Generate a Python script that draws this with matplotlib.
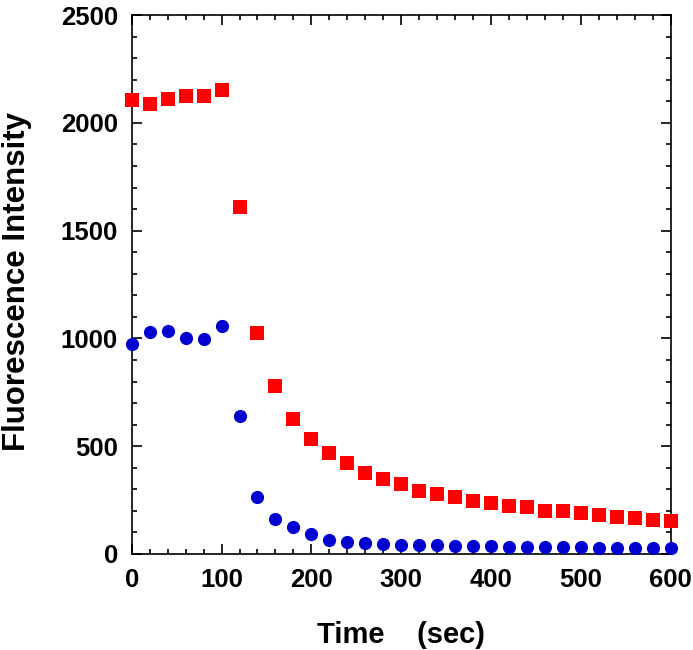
import matplotlib.pyplot as plt
from matplotlib.ticker import MultipleLocator

plt.rcParams["font.family"] = ["Liberation Sans", "DejaVu Sans"]
plt.rcParams["font.weight"] = "bold"

# time points (sec)
time = list(range(0, 601, 20))

# red squares
red_vals = [2106, 2090, 2109, 2123, 2123, 2151, 1609, 1027, 779, 625,
            533, 468, 420, 377, 349, 323, 294, 280, 263, 247,
            236, 224, 216, 201, 199, 190, 182, 173, 167, 159, 153]

# blue circles
blue_vals = [975, 1031, 1033, 1002, 999, 1059, 640, 264, 164, 124,
             93, 66, 56, 51, 46, 43, 42, 40, 38, 36,
             35, 34, 33, 32, 31, 31, 30, 30, 29, 29, 28]


def main():
    fig = plt.figure(figsize=(6.93, 6.5), dpi=100)
    ax = fig.add_axes([0.190, 0.1477, 0.778, 0.829])

    ax.plot(time, red_vals, linestyle="none", marker="s", markersize=10,
            color="#ff0000", markeredgewidth=0, clip_on=False, zorder=3)
    ax.plot(time, blue_vals, linestyle="none", marker="o", markersize=9.5,
            color="#0000d0", markeredgewidth=0, clip_on=False, zorder=3)

    ax.set_xlim(0, 600)
    ax.set_ylim(0, 2500)
    ax.xaxis.set_major_locator(MultipleLocator(100))
    ax.xaxis.set_minor_locator(MultipleLocator(20))
    ax.yaxis.set_major_locator(MultipleLocator(500))
    ax.yaxis.set_minor_locator(MultipleLocator(100))

    for s in ax.spines.values():
        s.set_linewidth(1.2)
    ax.tick_params(which="both", direction="in", top=True, right=True, width=1.2)
    ax.tick_params(which="major", length=7, pad=10, labelsize=18.5)
    ax.tick_params(which="minor", length=3.8)

    ax.set_xlabel("Time    (sec)", fontsize=21, fontweight="bold")
    ax.set_ylabel("Fluorescence Intensity", fontsize=22.5, fontweight="bold")
    ax.xaxis.set_label_coords(0.5, -0.125)
    ax.yaxis.set_label_coords(-0.184, 0.505)

    fig.savefig("out.png", dpi=100)


if __name__ == "__main__":
    main()
